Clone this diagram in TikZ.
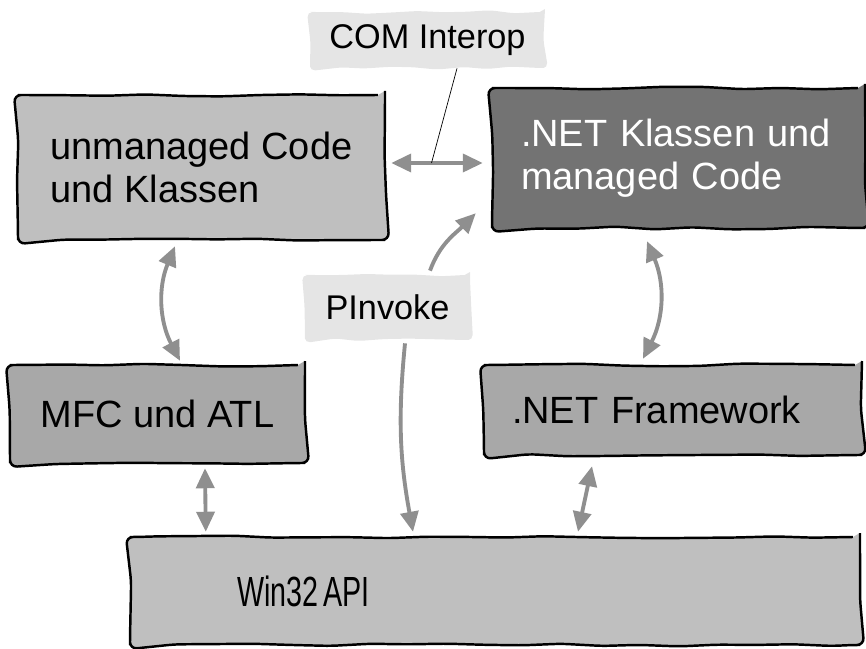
\documentclass[tikz,border=0pt]{standalone}
\usepackage{fontspec}
\setmainfont{Liberation Sans}
\newfontfamily\narrowfont[FakeStretch=0.68]{Liberation Sans}
\usetikzlibrary{arrows.meta,decorations.pathmorphing}

\definecolor{boxlight}{gray}{0.75}
\definecolor{boxmid}{gray}{0.66}
\definecolor{boxdark}{gray}{0.45}
\definecolor{taggray}{gray}{0.9}
\definecolor{arrowgray}{gray}{0.56}

\begin{document}
\begin{tikzpicture}[
  layer/.style={draw=black, line width=1.4pt, fill=#1, rounded corners=4pt,
    decorate, decoration={random steps, segment length=22pt, amplitude=0.8pt},
    font=\fontsize{21.6}{24.5}\selectfont, inner ysep=0pt},
  tag/.style={fill=taggray, rounded corners=3pt,
    decorate, decoration={random steps, segment length=14pt, amplitude=1pt},
    font=\fontsize{19.5}{22}\selectfont},
  link/.style={draw=arrowgray, line width=2.2pt, -{Triangle[length=0.4cm,width=0.36cm]}},
  both/.style={link, {Triangle[length=0.4cm,width=0.36cm]}-{Triangle[length=0.4cm,width=0.36cm]}},
]
\pgfmathsetseed{7}
\useasboundingbox (0,0) rectangle (17.32,12.96);

% layers
\node[layer=boxlight, minimum width=7.34cm, minimum height=2.9cm, align=left] (unm) at (4.03,9.61)
      {unmanaged Code\\und Klassen};
\node[layer=boxdark, text=white, minimum width=7.46cm, minimum height=2.8cm,
      text width=6.3cm, inner xsep=0.58cm, align=left] (net) at (13.57,9.8)
      {.NET Klassen und\\managed Code};
\node[layer=boxmid, minimum width=5.9cm, minimum height=1.96cm] (mfc) at (3.15,4.68)
      {MFC und ATL};
\node[layer=boxmid, minimum width=7.56cm, minimum height=1.8cm,
      text width=6.44cm, inner xsep=0.56cm, align=left] (fw) at (13.46,4.76)
      {.NET Framework};
\node[layer=boxlight, minimum width=14.6cm, minimum height=2.16cm,
      text width=10.32cm, inner xsep=2.14cm, align=left,
      font=\narrowfont\fontsize{24}{26}\selectfont] (win) at (9.9,1.14)
      {\raisebox{-5pt}{Win32\hspace{3pt}API}};

%% labels
\node[tag, minimum width=4.7cm, minimum height=1.12cm] (com) at (8.55,12.16) {COM Interop};
\node[tag, minimum width=3.3cm, minimum height=1.3cm] (pinv) at (7.75,6.81) {PInvoke};

%% COM Interop
\draw[both] ([xshift=0.1cm,yshift=0.09cm]unm.east) -- coordinate[pos=0.44] (comhit)
            ([xshift=-0.16cm,yshift=-0.1cm]net.west);
\draw[thin] ([xshift=0.59cm]com.south) -- (comhit);

%% vertical links
\draw[both] ([xshift=-0.53cm,yshift=-0.1cm]unm.south) to[bend right=25]
            ([xshift=0.45cm,yshift=0.06cm]mfc.north);
\draw[both] ([xshift=-0.63cm,yshift=-0.24cm]net.south) to[bend left=25]
            ([xshift=-0.6cm,yshift=0.1cm]fw.north);
\draw[both] ([xshift=0.95cm,yshift=-0.08cm]mfc.south) --
            ([xshift=1.54cm,yshift=0.08cm]win.north west);
\draw[both] ([xshift=-1.62cm,yshift=-0.2cm]fw.south) --
            ([xshift=1.66cm,yshift=0.08cm]win.north);

%% PInvoke
\draw[link] ([xshift=0.85cm,yshift=0.08cm]pinv.north) to[out=70,in=225]
            ([xshift=-0.3cm,yshift=0.32cm]net.south west);
\draw[link] ([xshift=0.35cm,yshift=-0.06cm]pinv.south) to[bend right=8]
            ([xshift=-1.64cm,yshift=0.08cm]win.north);
\end{tikzpicture}
\end{document}
